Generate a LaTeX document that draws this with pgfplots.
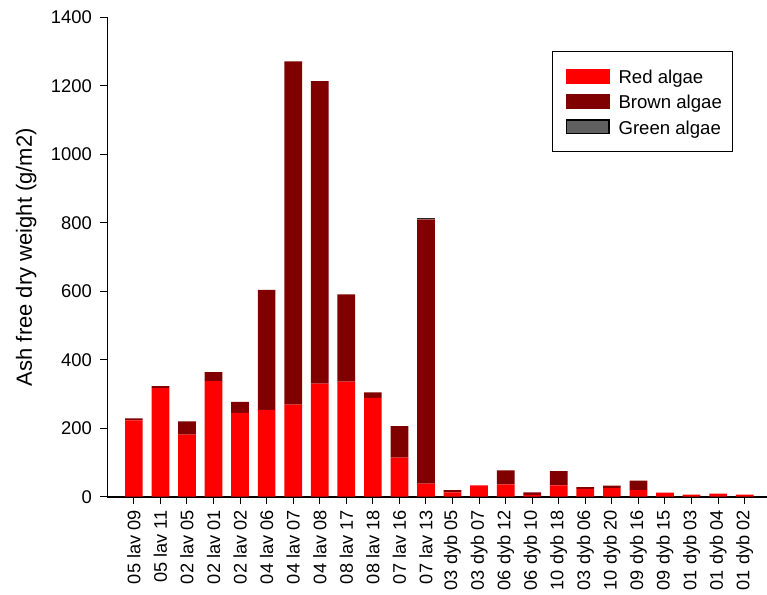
\documentclass[border=0pt]{standalone}
\usepackage{pgfplots}
\usepackage{pgfplotstable}
\pgfplotsset{compat=1.18}
\usepackage{fontspec}
\setmainfont{Liberation Sans}

\definecolor{redalgae}{RGB}{255,0,0}
\definecolor{brownalgae}{RGB}{128,0,0}
\definecolor{greenalgae}{RGB}{96,96,96}

% Ash free dry weight (g/m2) per station
\pgfplotstableread{
idx red brown green
0  223   6  0
1  317   6  0
2  181  39  0
3  338  26  0
4  245  32  0
5  254 350  0
6  269 1003 0
7  330 884  0
8  336 255  0
9  289  16  0
10 114  92  0
11  38 772  4
12  13   6  0
13  33   0  0
14  36  41  0
15   5   8  0
16  33  42  0
17  23   5  0
18  25   7  0
19  19  28  0
20  12   0  0
21   6   0  0
22   9   0  0
23   6   0  0
}\algae

\begin{document}
\begin{tikzpicture}
\path[use as bounding box] (0,0) rectangle (767pt,594pt);
\begin{axis}[
  at={(107.3pt,97.3pt)}, anchor=south west,
  scale only axis, width=659.4pt, height=479.2pt,
  ybar stacked, bar width=17.7pt,
  xmin=-1, xmax=23.83, ymin=0, ymax=1400,
  axis lines*=left,
  x axis line style={line width=2pt},
  y axis line style={line width=1.2pt},
  tick align=outside, major tick length=7pt,
  tick style={black, line width=1pt},
  xtick={0,...,23},
  xticklabels={05 lav 09,05 lav 11,02 lav 05,02 lav 01,02 lav 02,04 lav 06,04 lav 07,04 lav 08,08 lav 17,08 lav 18,07 lav 16,07 lav 13,03 dyb 05,03 dyb 07,06 dyb 12,06 dyb 10,10 dyb 18,03 dyb 06,10 dyb 20,09 dyb 16,09 dyb 15,01 dyb 03,01 dyb 04,01 dyb 02},
  x tick label style={yshift=-3pt, rotate=90, anchor=east, font=\fontsize{18.2}{22}\selectfont},
  ytick={0,200,...,1400},
  y tick label style={xshift=-5pt, font=\fontsize{18.4}{22}\selectfont},
  /pgf/number format/assume math mode=true,
  /pgf/number format/1000 sep={},
  ylabel={Ash free dry weight (g/m2)},
  every axis y label/.style={at={([xshift=-81pt]rel axis cs:0,0.5)}, rotate=90, anchor=center, font=\fontsize{22}{26}\selectfont},
  legend cell align=left,
  legend image code/.code={\path[#1] (0pt,-7.5pt) rectangle (44pt,7.5pt);},
  legend style={at={(rel axis cs:0.674,0.9307)}, anchor=north west,
    draw=black, line width=1pt, inner xsep=13.3pt, inner ysep=12.2pt,
    column sep=3pt, font=\fontsize{18.6}{22}\selectfont,
    nodes={inner xsep=6pt, inner ysep=2.15pt, text height=18pt, text depth=3pt}},
]
\addplot[fill=redalgae, draw=none] table[x=idx, y=red] {\algae};
\addlegendentry{\makebox[95pt][l]{Red algae}}
\addplot[fill=brownalgae, draw=none] table[x=idx, y=brown] {\algae};
\addlegendentry{\makebox[95pt][l]{Brown algae}}
\addplot[fill=black!85, draw=none,
  legend image code/.code={\filldraw[fill=greenalgae, draw=black, line width=1.6pt] (0.8pt,-6.7pt) rectangle (43.2pt,6.7pt);}]
  table[x=idx, y=green] {\algae};
\addlegendentry{\makebox[95pt][l]{Green algae}}
\end{axis}
\end{tikzpicture}
\end{document}
